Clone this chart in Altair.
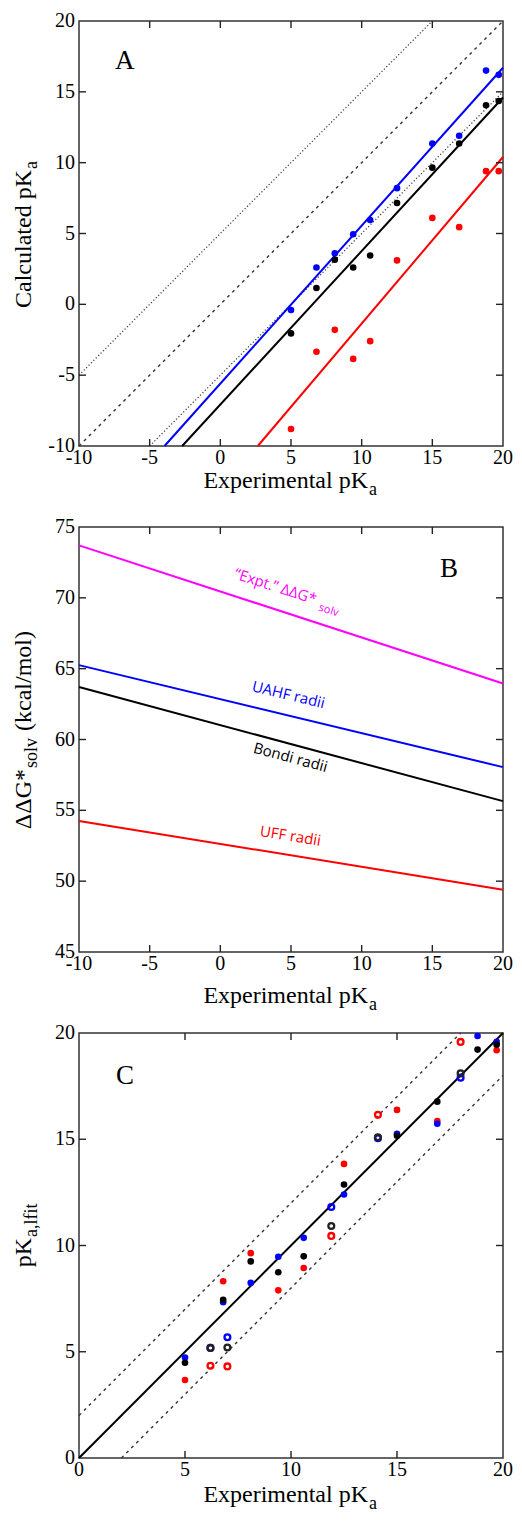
import altair as alt
import pandas as pd

SERIF = "Liberation Serif"
SANS = "Open Sans"
BLUE, BLACK, RED, MAG = "#0000ff", "#000000", "#ff0000", "#ff00ff"
FRAME = "#333333"

# ---------------- Panel A data ----------------
xA = [5.0, 6.8, 8.1, 9.4, 10.6, 12.5, 15.0, 16.9, 18.8, 19.7]
blueA = [-0.4, 2.6, 3.6, 4.95, 5.95, 8.2, 11.35, 11.9, 16.5, 16.2]
blackA = [-2.05, 1.15, 3.15, 2.6, 3.45, 7.15, 9.65, 11.35, 14.05, 14.35]
redA = [-8.8, -3.35, -1.8, -3.85, -2.6, 3.1, 6.1, 5.45, 9.4, 9.4]

fitA_x = {"blue": [-3.95, 20.0], "black": [-2.7, 20.0], "red": [2.65, 20.0]}
fitA_y = {"blue": [-10.0, 16.7], "black": [-10.0, 14.6], "red": [-10.0, 10.4]}
refA_x = {"upper": [-10.0, 15.0], "diag": [-10.0, 20.0], "lower": [-5.0, 20.0]}
refA_y = {"upper": [-5.0, 20.0], "diag": [-10.0, 20.0], "lower": [-10.0, 15.0]}

# ---------------- Panel B data ----------------
xB = [-10.0, 20.0]
exptB = [73.7, 63.95]
uahfB = [65.25, 58.05]
bondiB = [63.7, 55.65]
uffB = [54.25, 49.4]
labelsB = ["\u201cExpt.\u201d \u0394\u0394G*", "UAHF radii", "Bondi radii", "UFF radii"]
labelB_x = [3.9, 4.82, 4.96, 4.96]
labelB_y = [70.8, 63.15, 58.73, 53.19]
labelB_angle = [18, 13.5, 15, 9.2]
labelB_color = [MAG, BLUE, BLACK, RED]

# ---------------- Panel C data ----------------
xC_fill = [5.0, 6.8, 8.1, 9.4, 10.6, 12.5, 15.0, 16.9, 18.8, 19.7]
blueC_fill = [4.73, 7.33, 8.24, 9.47, 10.36, 12.4, 15.26, 15.73, 19.86, 19.58]
blackC_fill = [4.48, 7.44, 9.25, 8.74, 9.49, 12.87, 15.16, 16.77, 19.22, 19.45]
xC_red_fill = [5.0, 6.8, 8.1, 9.4, 10.6, 12.5, 15.0, 16.9, 19.7]
redC_fill = [3.67, 8.32, 9.64, 7.89, 8.94, 13.84, 16.38, 15.85, 19.19]
xC_ring = [6.2, 7.0, 11.9, 14.1, 18.0]
blueC_ring = [5.18, 5.68, 11.81, 15.05, 17.9]
blackC_ring = [5.18, 5.2, 10.92, 15.09, 18.1]
redC_ring = [4.34, 4.31, 10.45, 16.15, 19.58]

# ---------------- tick values / labels ----------------
ticks_pk = [-10, -5, 0, 5, 10, 15, 20]
ticks_pk_lab = ["-10", "-5", "0", "5", "10", "15", "20"]
ticks_dg = [45, 50, 55, 60, 65, 70, 75]
ticks_dg_lab = ["45", "50", "55", "60", "65", "70", "75"]
ticks_c = [0, 5, 10, 15, 20]
ticks_c_lab = ["0", "5", "10", "15", "20"]

W, H = 424, 425
TICK = 7


def scales(xdom, ydom):
    return (alt.Scale(domain=xdom, nice=False, zero=False),
            alt.Scale(domain=ydom, nice=False, zero=False))


def frame_layers(xdom, ydom, xvals, xlabs, yvals, ylabs):
    xs, ys = scales(xdom, ydom)
    dfx = pd.DataFrame({"v": xvals, "t": xlabs})
    dfy = pd.DataFrame({"v": yvals, "t": ylabs})
    lk = dict(font=SERIF, fontSize=20, color="black")
    lx = alt.Chart(dfx).mark_text(align="center", baseline="top", **lk).encode(
        x=alt.X("v:Q", scale=xs, axis=None), y=alt.value(H + 2), text="t:N")
    ly = alt.Chart(dfy).mark_text(align="right", baseline="middle", **lk).encode(
        y=alt.Y("v:Q", scale=ys, axis=None), x=alt.value(-4), text="t:N")
    # inward tick marks on all four sides at the inner tick values
    dix = pd.DataFrame({"v": xvals[1:-1]})
    diy = pd.DataFrame({"v": yvals[1:-1]})
    tk = dict(color="#222222", thickness=1.4, size=TICK, opacity=1)
    half = TICK / 2
    tb = alt.Chart(dix).mark_tick(orient="vertical", **tk).encode(
        x=alt.X("v:Q", scale=xs, axis=None), y=alt.value(H - half))
    tt = alt.Chart(dix).mark_tick(orient="vertical", **tk).encode(
        x=alt.X("v:Q", scale=xs, axis=None), y=alt.value(half))
    tl = alt.Chart(diy).mark_tick(orient="horizontal", **tk).encode(
        y=alt.Y("v:Q", scale=ys, axis=None), x=alt.value(half))
    tr = alt.Chart(diy).mark_tick(orient="horizontal", **tk).encode(
        y=alt.Y("v:Q", scale=ys, axis=None), x=alt.value(W - half))
    return [tb, tt, tl, tr, lx, ly]


def line(xs_, ys_, xdom, ydom, color, width=2.0, dash=None):
    xs, ys = scales(xdom, ydom)
    kw = dict(color=color, strokeWidth=width)
    if dash:
        kw["strokeDash"] = dash
    return alt.Chart(pd.DataFrame({"x": xs_, "y": ys_})).mark_line(**kw).encode(
        x=alt.X("x:Q", scale=xs, axis=None), y=alt.Y("y:Q", scale=ys, axis=None))


def dots(xs_, ys_, xdom, ydom, color, ring=False):
    xs, ys = scales(xdom, ydom)
    df = pd.DataFrame({"x": xs_, "y": ys_})
    if ring:
        m = alt.Chart(df).mark_point(filled=False, color=color, strokeWidth=2.3, size=34, opacity=1)
    else:
        m = alt.Chart(df).mark_circle(color=color, size=44, opacity=1)
    return m.encode(x=alt.X("x:Q", scale=xs, axis=None), y=alt.Y("y:Q", scale=ys, axis=None))


def txt(s, x, y, size, align="left", angle=0, font=SERIF, color="black"):
    return alt.Chart(pd.DataFrame({"t": [s]})).mark_text(
        align=align, baseline="alphabetic", angle=angle, font=font,
        fontSize=size, color=color).encode(text="t:N", x=alt.value(x), y=alt.value(y))


def xtitle(ybase):
    return [txt("Experimental pK", 289, ybase, 24, align="right"),
            txt("a", 290, ybase + 7, 18)]


def panel(layers):
    return alt.layer(*layers).properties(width=W, height=H)


# ---------------- Panel A ----------------
xdA, ydA = [-10, 20], [-10, 20]
layersA = [
    line(refA_x["upper"], refA_y["upper"], xdA, ydA, "#444444", 1.3, [1.2, 2.2]),
    line(refA_x["diag"], refA_y["diag"], xdA, ydA, "#333333", 1.4, [3, 4]),
    line(refA_x["lower"], refA_y["lower"], xdA, ydA, "#444444", 1.3, [1.2, 2.2]),
    line(fitA_x["red"], fitA_y["red"], xdA, ydA, RED),
    line(fitA_x["black"], fitA_y["black"], xdA, ydA, BLACK),
    line(fitA_x["blue"], fitA_y["blue"], xdA, ydA, BLUE),
    dots(xA, redA, xdA, ydA, RED),
    dots(xA, blueA, xdA, ydA, BLUE),
    dots(xA, blackA, xdA, ydA, BLACK),
] + frame_layers(xdA, ydA, ticks_pk, ticks_pk_lab, ticks_pk, ticks_pk_lab) + [
    txt("A", 36, 48, 27),
    txt("Calculated pK", -48, 149, 24, align="right", angle=270),
    txt("a", -42, 148, 18, angle=270),
] + xtitle(467)
panelA = panel(layersA)

# ---------------- Panel B ----------------
xdB, ydB = [-10, 20], [45, 75]
xsB, ysB = scales(xdB, ydB)
layersB = [
    line(xB, exptB, xdB, ydB, MAG),
    line(xB, uahfB, xdB, ydB, BLUE),
    line(xB, bondiB, xdB, ydB, BLACK),
    line(xB, uffB, xdB, ydB, RED),
]
for s, lx, ly, ang, col in zip(labelsB, labelB_x, labelB_y, labelB_angle, labelB_color):
    layersB.append(
        alt.Chart(pd.DataFrame({"t": [s], "x": [lx], "y": [ly]})).mark_text(
            align="center", baseline="middle", angle=ang, font=SANS, fontSize=15, color=col
        ).encode(text="t:N", x=alt.X("x:Q", scale=xsB, axis=None), y=alt.Y("y:Q", scale=ysB, axis=None))
    )
layersB.append(
    alt.Chart(pd.DataFrame({"t": ["solv"], "x": [7.66], "y": [69.1]})).mark_text(
        align="center", baseline="middle", angle=18, font=SANS, fontSize=11, color=MAG
    ).encode(text="t:N", x=alt.X("x:Q", scale=xsB, axis=None), y=alt.Y("y:Q", scale=ysB, axis=None))
)
layersB += frame_layers(xdB, ydB, ticks_pk, ticks_pk_lab, ticks_dg, ticks_dg_lab) + [
    txt("B", 361, 50, 27),
    txt("\u0394\u0394G*", -48, 242, 24, align="right", angle=270),
    txt("solv", -42, 241, 18, angle=270),
    txt("(kcal/mol)", -48, 204, 24, angle=270),
] + xtitle(476)
panelB = panel(layersB)

# ---------------- Panel C ----------------
xdC, ydC = [0, 20], [0, 20]
layersC = [
    line([0, 18], [2, 20], xdC, ydC, "#333333", 1.4, [3, 4]),
    line([2, 20], [0, 18], xdC, ydC, "#333333", 1.4, [3, 4]),
    line([0, 20], [0, 20], xdC, ydC, BLACK, 2.0),
    dots(xC_red_fill, redC_fill, xdC, ydC, RED),
    dots(xC_fill, blueC_fill, xdC, ydC, BLUE),
    dots(xC_fill, blackC_fill, xdC, ydC, BLACK),
    dots(xC_ring, redC_ring, xdC, ydC, RED, ring=True),
    dots(xC_ring, blueC_ring, xdC, ydC, BLUE, ring=True),
    dots(xC_ring, blackC_ring, xdC, ydC, "#222222", ring=True),
] + frame_layers(xdC, ydC, ticks_c, ticks_c_lab, ticks_c, ticks_c_lab) + [
    txt("C", 37, 51, 27),
    txt("pK", -48, 205, 24, align="right", angle=270),
    txt("a,lfit", -42, 204, 18, angle=270),
] + xtitle(469)
panelC = panel(layersC)

chart = alt.vconcat(panelA, panelB, panelC, spacing=81, bounds="flush").properties(
    padding={"left": 3, "top": 2, "right": 0, "bottom": 0}, background="white"
).configure_view(stroke=FRAME, strokeWidth=1.5)

chart.save("out.html", embed_options={"renderer": "svg", "actions": False})
